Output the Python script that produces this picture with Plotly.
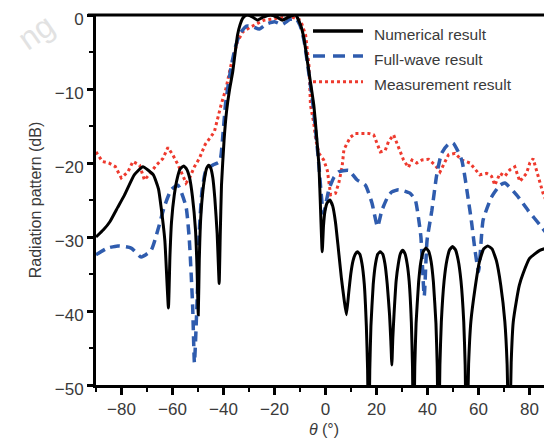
import plotly.graph_objects as go

# ---------------- data ----------------
theta_num = [-90, -87, -84.5, -81.5, -78.8, -75, -71.6, -67.5, -65.5, -64.5, -63.0, -61.6,
             -61.0, -60.4, -59.3, -58.1, -57.0, -55.6, -54.5, -53.3, -52.2, -51.0, -50.4, -49.9,
             -49.5, -49.1, -48.3, -47.4, -46.6, -45.8, -45.0, -44.2, -43.4, -42.5, -42.1, -41.7,
             -41.3, -40.8, -39.8, -38.8, -37.6, -36.4, -35.4, -34.5, -33.5, -32.5, -31.3, -30.4,
             -28.5, -26.7, -24.5, -21.5, -19, -16.9, -14.5, -11.7, -9.8, -8.5, -6.5, -4.6, -2.6,
             -1.3, -0.8, -0.2, 0.6, 1.7, 2.8, 3.9, 5.0, 6.2, 7.3, 8.2,
             9.1, 9.9, 10.8, 11.7, 12.5, 13.4, 14.3, 15.2, 16.0, 16.5, 16.9,
             17.35, 17.8, 18.7, 19.6, 20.5, 21.45, 22.4, 23.3, 24.2, 25.1, 25.6, 26.0,
             26.4, 26.85, 27.7, 28.55, 29.4, 30.25, 31.1, 32.0, 32.8, 33.65, 34.1, 34.5,
             35.0, 35.5, 36.5, 37.4, 38.4, 39.4, 40.4, 41.4, 42.3, 43.3, 43.8, 44.3,
             44.85, 45.4, 46.5, 47.6, 48.7, 49.8, 50.9, 52.0, 53.1, 54.2, 54.75, 55.3,
             56.1, 57.0, 58.6, 60.3, 62.0, 63.6, 65.3, 67.0, 68.7, 70.3, 71.2, 72.0,
             72.8, 73.6, 74.9, 76.0, 77.5, 80.0, 84.0, 88.8]
num_db = [-30.0, -29.0, -27.9, -26.0, -24.3, -21.6, -20.5, -21.6, -23.5, -25.9, -30.5, -39.6,
          -32.5, -28.0, -24.3, -22.0, -20.8, -20.4, -20.8, -22.0, -24.5, -29.0, -34.0, -40.5,
          -33.0, -28.5, -24.5, -22.0, -20.7, -20.3, -20.7, -22.0, -24.8, -29.5, -33.0, -36.3,
          -30.0, -23.0, -17.0, -13.0, -10.0, -7.7, -5.0, -2.7, -1.3, -0.45, -0.05, 0.0,
          -0.3, -0.7, -0.3, 0.0, -0.3, -0.7, -0.3, 0.0, -1.35, -3.1, -7.7, -12.2, -20.3,
          -32.0, -28.5, -26.5, -25.4, -25.0, -25.8, -28.0, -31.5, -35.5, -38.5, -40.5,
          -37.5, -35.0, -33.2, -32.3, -32.0, -32.3, -33.6, -36.4, -42.0, -48.0, -60.0,
          -48.0, -42.0, -36.4, -33.6, -32.3, -32.0, -32.3, -33.6, -36.4, -40.5, -44.0, -47.3,
          -43.5, -40.5, -35.9, -33.6, -32.2, -31.8, -32.2, -33.6, -36.0, -41.5, -47.5, -60.0,
          -47.5, -41.7, -36.1, -33.3, -31.9, -31.5, -31.9, -33.3, -36.1, -41.7, -47.5, -60.0,
          -47.3, -41.5, -35.9, -33.1, -31.7, -31.3, -31.7, -33.1, -35.9, -41.5, -47.3, -60.0,
          -47.2, -41.4, -37.0, -33.4, -31.6, -31.2, -31.6, -33.2, -36.5, -41.4, -47.2, -60.0,
          -47.0, -41.5, -38.5, -36.5, -34.9, -32.9, -31.8, -31.3]

theta_fw = [-90, -85.5, -81.4, -76.2, -72.3, -68.4, -65.7, -63.2, -60.5, -57.9, -54.7, -53.4,
            -52.7, -52.1, -51.4, -50.3, -49.6, -48.5, -46.9, -44.3, -41.5, -40.2, -39.2,
            -37.5, -35.5, -33.5, -31, -28.5, -26, -23, -20, -17, -14, -11.5, -10, -8.5,
            -6.5, -4.7, -2.8, -0.8, 1.3, 3.2, 5.2, 9.1, 12.4, 15.6, 18.2, 20.4, 22.1, 24.5,
            26.0, 28.6, 31.0, 33.2, 35.2, 36.4, 37.4, 38.7, 39.8, 41.7, 43.6, 45.5, 48.0,
            50.0, 53.4, 56.0, 57.3, 58.5, 60.0, 61.8, 65.1, 68.4, 70.3, 74.9, 79.4, 84.6, 88.8]
fw_db = [-32.4, -31.5, -31.2, -31.5, -32.7, -31.8, -29.0, -25.9, -23.6, -23.0, -25.9, -30.4,
         -34.9, -39.4, -47.0, -38.0, -30.0, -24.0, -21.0, -20.3, -19.8, -16.0, -12.0,
         -8.0, -4.5, -2.5, -1.5, -1.6, -1.9, -1.2, -0.9, -1.3, -0.6, -0.5, -1.4, -3.3,
         -8.0, -12.8, -19.5, -26.8, -23.6, -22.0, -21.2, -21.0, -22.3, -23.0, -25.4, -28.6, -26.4, -24.5,
         -23.9, -23.6, -23.8, -24.1, -25.0, -27.3, -30.0, -38.0, -30.5, -26.4, -21.6, -18.7, -17.5,
         -17.3, -19.6, -25.0, -28.1, -31.5, -34.7, -27.7, -24.6, -23.0, -22.7, -24.3, -26.4, -28.6, -30.5]

theta_meas = [-90, -87.5, -85, -82.4, -80.1, -77.5, -75.5, -72.9, -71, -69, -66.4, -63.8,
              -61.8, -59.9, -57.9, -56.6, -54.7, -53.4, -51.4, -49.5, -47.2, -43.6, -41,
              -39, -37.1, -34.5, -32.5, -29.3, -24.1, -18.9, -13.7, -9.8, -7.8, -6.5, -5.9,
              -4.6, -3.9, -2.6, -0.7, 0.7, 1.3, 2.0, 3.9, 5.2, 6.5, 7.2, 8.5, 9.8, 11.7,
              14.3, 16.9, 18.9, 20.2, 21.5, 23.4, 24.7, 26.7, 28, 29.3, 30.6, 32.5, 33.9,
              35.8, 37.8, 40.4, 43.0, 44.9, 46.9, 48.2, 50.8, 53.4, 56.6, 58.6, 60.5, 63.2,
              65.1, 66.4, 68.4, 70.3, 72.3, 74.2, 76.2, 78.8, 80.1, 81.4, 82.7, 84.0, 85.3,
              86.6, 87.9, 88.5]
meas_db = [-18.5, -19.8, -20.0, -20.5, -22.0, -21.2, -19.8, -20.3, -22.3, -21.5, -20.3, -19.4,
           -17.9, -18.9, -20.2, -21.3, -22.7, -22.1, -20.5, -19.4, -17.5, -15.8, -12.2,
           -9.9, -6.8, -3.6, -2.3, -1.6, -0.7, -0.45, -0.2, -0.7, -2.7, -6.8, -12.2,
           -14.6, -16.7, -18.7, -19.6, -21.0, -22.3, -24.3, -24.1, -22.7, -20.5, -18.2, -17.3, -16.5, -16.0,
           -16.0, -16.0, -16.2, -17.3, -18.5, -18.3, -17.1, -16.2, -17.3, -18.5, -19.6, -20.6, -19.6,
           -20.0, -19.6, -19.5, -20.3, -21.2, -19.8, -18.9, -18.7, -19.6, -20.0, -20.9, -21.6, -21.4,
           -21.8, -23.0, -21.4, -21.8, -20.9, -20.5, -22.5, -21.4, -20.0, -19.4, -20.9, -22.5, -24.1,
           -25.2, -23.6, -17.3]

series_names = ["Numerical result", "Full-wave result", "Measurement result"]
x_ticks = [-80, -60, -40, -20, 0, 20, 40, 60, 80]
y_ticks = [-50, -40, -30, -20, -10, 0]

BLACK = "#000000"
BLUE = "#2f5cae"
RED = "#ee3a2e"
FONT = "Arial, Liberation Sans, sans-serif"
TXT = "#3a3a3a"

fig = go.Figure()
fig.add_trace(go.Scatter(x=theta_meas, y=meas_db, mode="lines", name=series_names[2],
                         line=dict(color=RED, width=3, dash="3px,3px")))
fig.add_trace(go.Scatter(x=theta_fw, y=fw_db, mode="lines", name=series_names[1],
                         line=dict(color=BLUE, width=3.5, dash="10px,6px", shape="spline", smoothing=0.5)))
fig.add_trace(go.Scatter(x=theta_num, y=num_db, mode="lines", name=series_names[0],
                         line=dict(color=BLACK, width=3, shape="spline", smoothing=0.4)))

# the page body adds an 8px offset, so the figure is 8px smaller with margins reduced accordingly
fig.update_layout(
    width=544, height=436,
    margin=dict(l=88, r=0, t=7, b=59, autoexpand=False),
    paper_bgcolor="white", plot_bgcolor="white",
    showlegend=False,
    font=dict(family=FONT, color=TXT, size=16),
)
fig.update_xaxes(
    range=[-90, 88.8], tickvals=x_ticks, ticks="outside", ticklen=7, tickwidth=2.5,
    tickcolor="black", showline=True, linecolor="black", linewidth=3, showgrid=False,
    zeroline=False, automargin=False, ticklabeloverflow="allow",
    tickfont=dict(size=17, family=FONT, color=TXT),
    minor=dict(dtick=10, tick0=0, ticks="outside", ticklen=4, tickwidth=2, tickcolor="black"),
    title=dict(text="<i>θ</i> (°)", font=dict(size=16, family=FONT, color=TXT), standoff=6),
)
fig.update_yaxes(
    range=[-50, 0], tickvals=y_ticks, ticks="outside", ticklen=6, tickwidth=2.5,
    tickcolor="black", showline=True, linecolor="black", linewidth=3, showgrid=False,
    zeroline=False, automargin=False, ticklabeloverflow="allow", ticklabelshift=4,
    tickfont=dict(size=17, family=FONT, color=TXT),
    minor=dict(dtick=5, tick0=0, ticks="outside", ticklen=4, tickwidth=2, tickcolor="black"),
    title=dict(text="Radiation pattern (dB)", font=dict(size=16, family=FONT, color=TXT), standoff=10),
)

# top frame line
fig.add_shape(type="line", xref="paper", yref="paper", x0=-0.018, x1=1, y0=1, y1=1,
              line=dict(color="black", width=3))

# custom legend
leg_styles = [dict(color=BLACK, width=3.5),
              dict(color=BLUE, width=3.5, dash="12px,8px"),
              dict(color=RED, width=3, dash="3px,3px")]
leg_line_y = [0.9568, 0.8892, 0.8197]
leg_text_y = [0.9486, 0.8784, 0.8135]
for name, st, ly, ty in zip(series_names, leg_styles, leg_line_y, leg_text_y):
    fig.add_shape(type="line", xref="paper", yref="paper", x0=0.4759, x1=0.5855, y0=ly, y1=ly, line=st)
    fig.add_annotation(xref="paper", yref="paper", x=0.6053, y=ty, text=name, showarrow=False,
                       xanchor="left", yanchor="middle", font=dict(size=15.5, family=FONT, color=TXT))

# faint watermark fragment
fig.add_annotation(xref="paper", yref="paper", x=-0.132, y=0.955, text="ng", showarrow=False,
                   xanchor="center", yanchor="middle",
                   textangle=-35, font=dict(size=32, family=FONT, color="#e2e2e2"))

fig.write_html("out.html")
